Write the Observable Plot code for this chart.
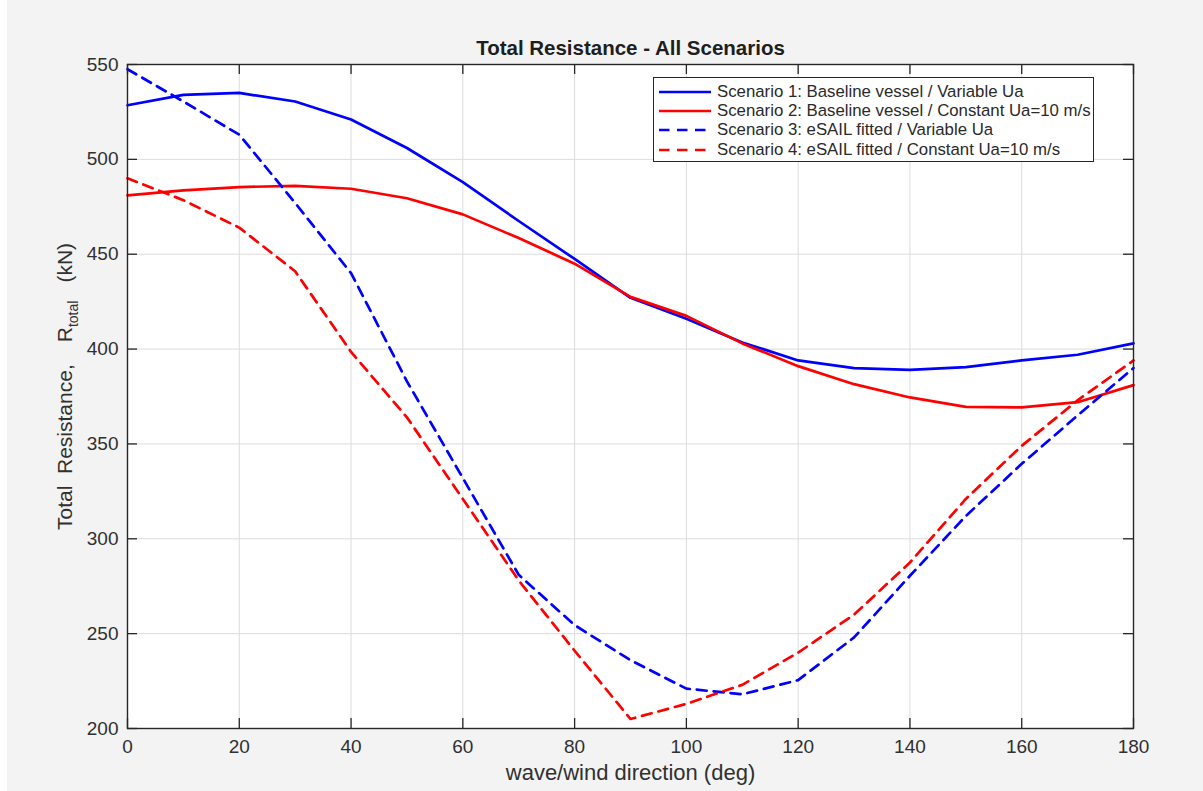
<!DOCTYPE html>
<html>
<head>
<meta charset="utf-8">
<script src="https://cdn.jsdelivr.net/npm/d3@7"></script>
<script src="https://cdn.jsdelivr.net/npm/@observablehq/plot@0.6"></script>
<style>
  html, body { margin: 0; padding: 0; background: #f3f3f3; }
  #wrap { position: relative; width: 1203px; height: 791px;
    background: linear-gradient(to right, #ffffff 7px, #f3f3f3 7px);
    font-family: "Liberation Sans", Arial, sans-serif; color: #262626; }
  #legend { position: absolute; left: 653px; top: 77px; width: 441px; height: 85px;
    background: #fff; border: 1px solid #262626; box-sizing: border-box; padding-top: 4px; }
  #legend .row { display: flex; align-items: center; height: 19.3px; font-size: 16.8px; white-space: nowrap; color: #2a2a2a; }
  #legend svg { margin-left: 4px; margin-right: 5px; }
</style>
</head>
<body>
<div id="wrap"><div id="chart"></div><div id="legend"></div></div>
<script>
const title = "Total Resistance - All Scenarios";
const xLabel = "wave/wind direction (deg)";
const angles = [0,10,20,30,40,50,60,70,80,90,100,110,120,130,140,150,160,170,180];
const s1 = [528.5,534,535,530.5,521,506,488,467.5,447.5,427,416,403.5,394,390,389,390.5,394,397,403];
const s2 = [481,483.7,485.4,486,484.5,479.5,471,458.5,445,427.5,417.5,403,391,381.5,374.5,369.5,369.3,372,381];
const s3 = [547.5,530.5,513,477,440,383,332,281,254.5,236,221,218,225.5,248,280.5,312,339.5,365,390];
const s4 = [490,478.5,464,441,398.5,364,321,278,241,205,213,223,240,260,287.5,321,349,373,394];
const seriesNames = [
  "Scenario 1: Baseline vessel / Variable Ua",
  "Scenario 2: Baseline vessel / Constant Ua=10 m/s",
  "Scenario 3: eSAIL fitted / Variable Ua",
  "Scenario 4: eSAIL fitted / Constant Ua=10 m/s"
];
const seriesColors = ["#0000ff","#ff0000","#0000ff","#ff0000"];
const seriesDash = [null, null, "10,7", "10,7"];
const xTicks = [0,20,40,60,80,100,120,140,160,180];
const yTicks = [200,250,300,350,400,450,500,550];

const allSeries = [s1, s2, s3, s4];
const rows = [];
allSeries.forEach((s, i) => s.forEach((v, j) => rows.push({angle: angles[j], value: v, series: seriesNames[i]})));

const W = 1203, H = 791, mL = 127, mR = 70, mT = 64, mB = 63;
const frameW = W - mL - mR, frameH = H - mT - mB;
const tickLen = 10;
const axisColor = "#262626";
const textColor = "#303030";

const lineMarks = seriesNames.map((name, i) => Plot.line(rows.filter(r => r.series === name), {
  x: "angle", y: "value", stroke: seriesColors[i], strokeWidth: 2.7,
  strokeDasharray: seriesDash[i] || undefined, strokeLinejoin: "round"
}));

const chart = Plot.plot({
  width: W, height: H,
  marginLeft: mL, marginRight: mR, marginTop: mT, marginBottom: mB,
  style: { background: "transparent", fontFamily: "'Liberation Sans', Arial, sans-serif", fontSize: "19px", color: textColor, overflow: "visible" },
  x: { domain: [0, 180] },
  y: { domain: [200, 550] },
  marks: [
    Plot.frame({ fill: "#ffffff" }),
    Plot.gridX(xTicks, { stroke: "#dcdcdc", strokeOpacity: 1, strokeWidth: 1 }),
    Plot.gridY(yTicks, { stroke: "#dcdcdc", strokeOpacity: 1, strokeWidth: 1 }),
    ...lineMarks,
    Plot.tickX(xTicks, { x: d => d, insetTop: frameH - tickLen, stroke: axisColor, strokeWidth: 1.3 }),
    Plot.tickX(xTicks, { x: d => d, insetBottom: frameH - tickLen, stroke: axisColor, strokeWidth: 1.3 }),
    Plot.tickY(yTicks, { y: d => d, insetRight: frameW - tickLen, stroke: axisColor, strokeWidth: 1.3 }),
    Plot.tickY(yTicks, { y: d => d, insetLeft: frameW - tickLen, stroke: axisColor, strokeWidth: 1.3 }),
    Plot.frame({ stroke: axisColor, strokeWidth: 1.4 }),
    Plot.axisX(xTicks, { tickSize: 0, tickPadding: 11, label: null, fontSize: 19, fill: textColor }),
    Plot.axisY(yTicks, { tickSize: 0, tickPadding: 9, label: null, fontSize: 19, fill: textColor }),
    Plot.text([xLabel], { text: d => d, frameAnchor: "bottom", lineAnchor: "middle", dy: 44, fontSize: 22, fill: textColor }),
    Plot.text([title], { text: d => d, frameAnchor: "top", lineAnchor: "middle", dy: -16, fontSize: 20.5, fontWeight: "bold", fill: "#1e1e1e" })
  ]
});
document.getElementById("chart").appendChild(chart);

// y-axis label with subscript
const svg = d3.select(chart);
const yl = svg.append("text")
  .attr("transform", `translate(72,530) rotate(-90)`)
  .attr("text-anchor", "start")
  .attr("fill", textColor)
  .style("font-family", "'Liberation Sans', Arial, sans-serif")
  .style("font-size", "21px")
  .style("white-space", "pre");
yl.append("tspan").text("Total  Resistance,");
yl.append("tspan").attr("dx", 22).text("R");
yl.append("tspan").attr("dy", 6).style("font-size", "14px").text("total");
yl.append("tspan").attr("dy", -6).attr("dx", 18).text("(kN)");

// legend
const legend = d3.select("#legend");
seriesNames.forEach((name, i) => {
  const row = legend.append("div").attr("class", "row");
  const s = row.append("svg").attr("width", 54).attr("height", 10);
  s.append("line").attr("x1", 1).attr("x2", 53).attr("y1", 5).attr("y2", 5)
    .attr("stroke", seriesColors[i]).attr("stroke-width", 2.7)
    .attr("stroke-dasharray", seriesDash[i] ? "10.5,7.5" : null);
  row.append("span").text(name);
});
</script>
</body>
</html>
